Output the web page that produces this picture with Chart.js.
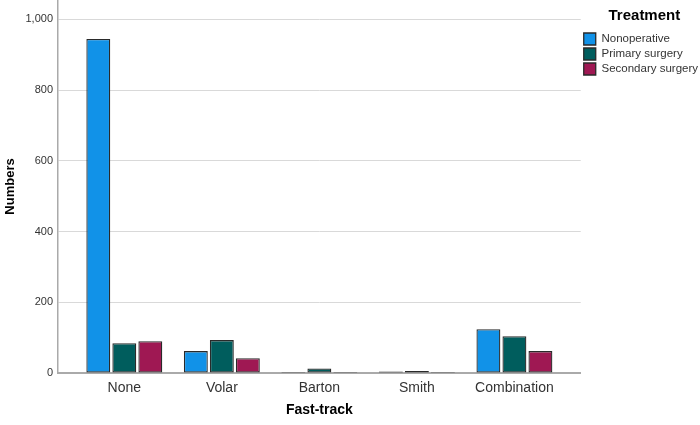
<!DOCTYPE html>
<html lang="en">
<head>
    <meta charset="UTF-8">
    <title>Fast-track by treatment</title>
    <script src="https://cdn.jsdelivr.net/npm/chart.js"></script>
    <style>
        html, body { margin: 0; padding: 0; background: #fff; }
        #wrap { width: 700px; height: 425px; }
    </style>
</head>
<body>
    <div id="wrap"><canvas id="chart"></canvas></div>

    <script>
        // Data
        const categories = ['None', 'Volar', 'Barton', 'Smith', 'Combination'];
        const nonoperative = [945, 62, 3, 4, 124];
        const primarySurgery = [84, 93, 13, 6, 104];
        const secondarySurgery = [90, 42, 3, 3, 62];
        const yTicks = [0, 200, 400, 600, 800, 1000];

        // categories sit at x = 1..5 on a linear axis so the plot can run past them
        function toPoints(values) {
            return values.map((v, i) => ({ x: i + 1, y: v }));
        }

        const fontFamily = '"Liberation Sans", Arial, sans-serif';

        const ctx = document.getElementById('chart').getContext('2d');
        new Chart(ctx, {
            type: 'bar',
            data: {
                datasets: [
                    {
                        label: 'Nonoperative',
                        data: toPoints(nonoperative),
                        backgroundColor: '#1192e8'
                    },
                    {
                        label: 'Primary surgery',
                        data: toPoints(primarySurgery),
                        backgroundColor: '#005d5d'
                    },
                    {
                        label: 'Secondary surgery',
                        data: toPoints(secondarySurgery),
                        backgroundColor: '#9f1853'
                    }
                ]
            },
            options: {
                responsive: true,
                maintainAspectRatio: false,
                animation: false,
                layout: { padding: { top: 0, left: 0, bottom: 0, right: -8 } },
                datasets: {
                    bar: {
                        borderColor: '#2a2a2a',
                        borderWidth: 1.3,
                        borderSkipped: false,
                        categoryPercentage: 0.8,
                        barPercentage: 0.92
                    }
                },
                plugins: {
                    tooltip: { enabled: false },
                    legend: {
                        position: 'right',
                        align: 'start',
                        title: {
                            display: true,
                            text: 'Treatment',
                            color: '#000',
                            font: { family: fontFamily, size: 15, weight: 'bold' },
                            padding: { top: 8, bottom: 4 }
                        },
                        labels: {
                            boxWidth: 12,
                            boxHeight: 12,
                            padding: 3,
                            color: '#333',
                            font: { family: fontFamily, size: 11.5 }
                        }
                    }
                },
                scales: {
                    x: {
                        type: 'linear',
                        min: 0.32,
                        max: 5.68,
                        offset: false,
                        afterBuildTicks: (scale) => {
                            scale.ticks = categories.map((c, i) => ({ value: i + 1 }));
                        },
                        afterFit: (scale) => {
                            scale.height = 52;
                            scale.paddingLeft = 0;
                            scale.paddingRight = 0;
                        },
                        grid: { display: false, drawTicks: false },
                        border: { display: true, color: '#aaaaaa', width: 2 },
                        ticks: {
                            padding: 7,
                            color: '#333',
                            font: { family: fontFamily, size: 14 },
                            callback: (value) => categories[value - 1] || ''
                        },
                        title: {
                            display: true,
                            text: 'Fast-track',
                            color: '#000',
                            font: { family: fontFamily, size: 14, weight: 'bold' },
                            padding: 6
                        }
                    },
                    y: {
                        min: 0,
                        max: 1055,
                        afterBuildTicks: (scale) => {
                            scale.ticks = yTicks.map(v => ({ value: v }));
                        },
                        afterFit: (scale) => {
                            scale.width = 58;
                            scale.paddingTop = 0;
                            scale.paddingBottom = 0;
                        },
                        grid: { color: '#d9d9d9', lineWidth: 1, drawTicks: false },
                        border: { display: true, color: '#aaaaaa', width: 1.5 },
                        ticks: {
                            padding: 5,
                            color: '#333',
                            font: { family: fontFamily, size: 11 },
                            callback: (value) => value.toLocaleString('en-US')
                        },
                        title: {
                            display: true,
                            text: 'Numbers',
                            color: '#000',
                            font: { family: fontFamily, size: 13, weight: 'bold' },
                            padding: 3
                        }
                    }
                }
            }
        });
    </script>
</body>
</html>
